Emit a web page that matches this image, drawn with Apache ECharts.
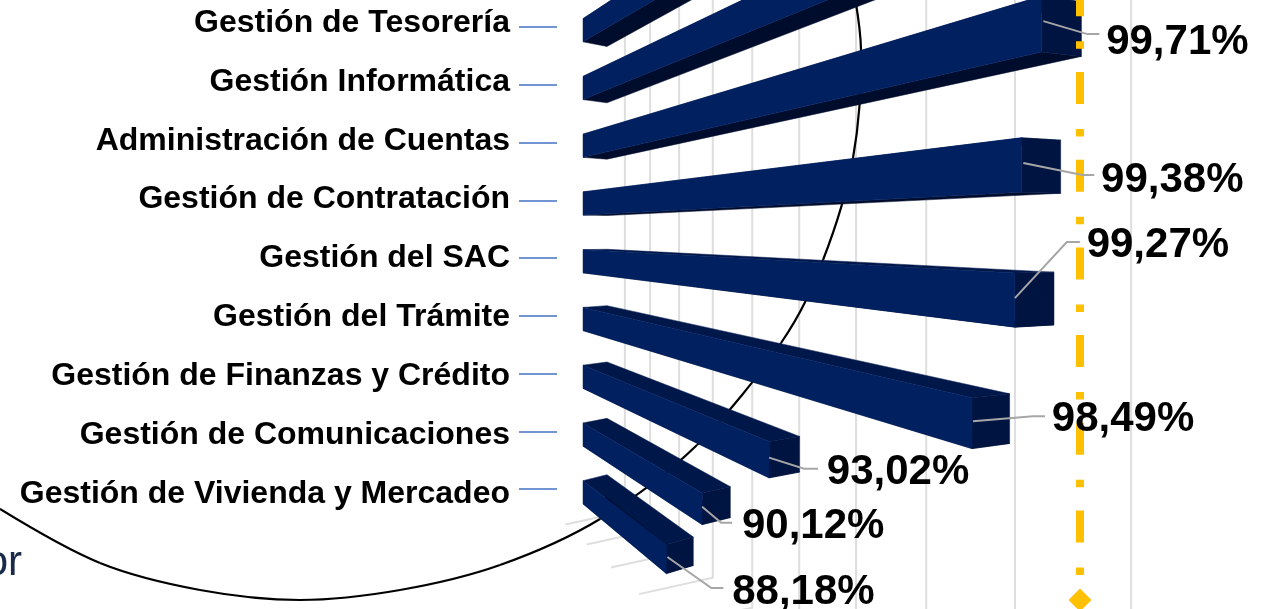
<!DOCTYPE html>
<html><head><meta charset="utf-8">
<style>html,body{margin:0;padding:0;background:#fff}#c{width:1262px;height:609px}</style>
<script src="https://cdn.jsdelivr.net/npm/echarts@6/dist/echarts.min.js"></script>
</head><body><div id="c"></div>
<script>
// ---- data ----
const categories = ['Gestión de Tesorería','Gestión Informática','Administración de Cuentas','Gestión de Contratación','Gestión del SAC','Gestión del Trámite','Gestión de Finanzas y Crédito','Gestión de Comunicaciones','Gestión de Vivienda y Mercadeo'];
const values = [100, 99.95, 99.71, 99.38, 99.27, 98.49, 93.02, 90.12, 88.18];
const gridTicks = [84,86,88,90,92,94,96,98,100,102];
const targetValue = [100.3];
// ---- layout of the leader lines, relative to the bar end: start, knee, end, label centre ----
const leaderLayout = [null,null,
 [[2,-3],[46,10],[58,10],[136,18]],
 [[2,-2],[61,10],[73,10],[151,15]],
 [[0,-2],[52,-58],[65,-58],[143,-55]],
 [[1,-2],[61,-7],[73,-7],[151,-4]],
 [[0,-2],[35,9],[49,9],[129,13]],
 [[0,-2],[19,14],[30,14],[111,18]],
 [[1,-2],[45,29],[57,29],[137,33]]];
// ---- background arc outline (decoration) ----
const arcPoints = [[-60,465],[0,509],[100,563],[200,590],[300,600],[400,590],[500,565],[600,519],[697,445],[781,343],[823,260],[853,158],[861,50],[850,-30]];
// ---- perspective of the 3D chart ----
const GL=583, GW=660, AX_MIN=80, AX_MAX=102;
const VX=258, VY=232, D0=325, HALF=11.6, BAR_BASE=82, BAR_K=0.00010166, WALL_K=0.0000878;
const axisVal=px=>AX_MIN+(px-GL)/GW*(AX_MAX-AX_MIN);
const barX=px=>VX+1/(1/D0-BAR_K*(axisVal(px)-BAR_BASE));
const wallX=px=>VX+1/(1/D0-WALL_K*(axisVal(px)-AX_MIN));
const front=(x,yc,sign)=>{const s=(x-VX)/D0;return [x,VY+(yc+3.25-VY)*s+sign*HALF*s];};
const back=p=>[p[0]+24+0.035*(p[0]-GL),p[1]+(234-p[1])*0.024];
const poly=(pts,fill)=>({type:'polygon',shape:{points:pts},style:{fill:fill,stroke:fill,lineWidth:0.5}});
function arcSegments(pts){
  const out=[];
  for(let i=0;i<pts.length-1;i++){
    const p0=pts[Math.max(i-1,0)],p1=pts[i],p2=pts[i+1],p3=pts[Math.min(i+2,pts.length-1)];
    out.push({type:'bezierCurve',z:1,silent:true,
      shape:{x1:p1[0],y1:p1[1],x2:p2[0],y2:p2[1],
        cpx1:p1[0]+(p2[0]-p0[0])/6,cpy1:p1[1]+(p2[1]-p0[1])/6,
        cpx2:p2[0]-(p3[0]-p1[0])/6,cpy2:p2[1]-(p3[1]-p1[1])/6},
      style:{stroke:'#000',lineWidth:2.2,fill:null}});
  }
  return out;
}
function endOf(api,i,v){
  const yc=api.coord([v,i])[1];
  const x0=barX(api.coord([BAR_BASE,i])[0]), x1=barX(api.coord([v,i])[0]);
  return {yc,x0,x1};
}
function renderBar(params,api){
  const i=params.dataIndex, v=api.value(0);
  const {yc,x0,x1}=endOf(api,i,v);
  const a=front(x0,yc,-1), b=front(x1,yc,-1), c=front(x1,yc,1), d=front(x0,yc,1);
  const ba=back(a), bb=back(b), bc=back(c), bd=back(d);
  return {type:'group',children:[
    poly([a,b,bb,ba],'#00174a'),
    poly([d,c,bc,bd],'#000c2c'),
    poly([b,bb,bc,c],'#001442'),
    poly([a,b,c,d],'#002060')
  ]};
}
function renderLabel(params,api){
  const i=params.dataIndex, v=api.value(0);
  const L=leaderLayout[i];
  if(!L) return {type:'group',children:[]};
  const {yc,x1}=endOf(api,i,v);
  const m=[x1,(front(x1,yc,-1)[1]+front(x1,yc,1)[1])/2];
  const at=o=>[m[0]+o[0],m[1]+o[1]];
  const t=at(L[3]);
  return {type:'group',children:[
    {type:'polyline',shape:{points:[at(L[0]),at(L[1]),at(L[2])]},style:{stroke:'#a6a6a6',lineWidth:2,fill:null}},
    {type:'text',style:{text:v.toFixed(2).replace('.',',')+'%',x:t[0],y:t[1],align:'center',verticalAlign:'middle',
      font:'bold 42px "Liberation Sans", Arial, sans-serif',fill:'#000'}}
  ]};
}
function renderGrid(params,api){
  const x=wallX(api.coord([api.value(0),0])[0]);
  const fy=234+0.756*(x-VX);
  const xf=VX+0.838*(x-VX), yf=234+0.945*(xf-VX);
  return {type:'polyline',shape:{points:[[x,-5],[x,fy],[xf,yf]]},style:{stroke:'#dedede',lineWidth:2,fill:null}};
}
function renderTarget(params,api){
  const x=barX(api.coord([api.value(0),0])[0]);
  const dy=600, r=11.5;
  return {type:'group',children:[
    {type:'line',shape:{x1:x,y1:-15.7,x2:x,y2:dy-10},style:{stroke:'#FFC000',lineWidth:8,lineDash:[32,25,7.5,23.2]}},
    {type:'polygon',shape:{points:[[x,dy-r],[x+r,dy],[x,dy+r],[x-r,dy]]},style:{fill:'#FFC000'}}
  ]};
}
const chart=echarts.init(document.getElementById('c'),null,{renderer:'canvas'});
const base={type:'custom',xAxisIndex:0,yAxisIndex:0,coordinateSystem:'cartesian2d',silent:true,clip:false,encode:{x:0}};
chart.setOption({
  animation:false,backgroundColor:'#fff',
  grid:[
    {left:GL,width:GW,top:-1.875,height:519.75,outerBoundsMode:'none'},
    {left:518,width:10,top:-6.45,height:530,outerBoundsMode:'none'}
  ],
  xAxis:[
    {gridIndex:0,type:'value',min:AX_MIN,max:AX_MAX,interval:2,show:false},
    {gridIndex:1,type:'value',show:false}
  ],
  yAxis:[
    {gridIndex:0,type:'category',inverse:true,data:categories,offset:26,
     axisLine:{show:false},axisLabel:{show:false},splitLine:{show:false},
     axisTick:{show:true,alignWithLabel:true,interval:0,length:38,lineStyle:{color:'#4472C4',width:1.5}}},
    {gridIndex:1,type:'category',inverse:true,data:categories,
     axisLine:{show:false},axisTick:{show:false},splitLine:{show:false},
     axisLabel:{show:true,interval:0,margin:8,color:'#000',fontWeight:'bold',fontSize:32,fontFamily:'"Liberation Sans", Arial, sans-serif'}}
  ],
  graphic:arcSegments(arcPoints).concat([
    {type:'text',z:1,silent:true,style:{text:'or',x:22,y:563,align:'right',verticalAlign:'middle',font:'42px "Liberation Sans", Arial, sans-serif',fill:'#1a2a4a'}}
  ]),
  series:[
    Object.assign({},base,{name:'grid',z:0,data:gridTicks.map(v=>[v]),renderItem:renderGrid}),
    Object.assign({},base,{name:'bars',z:3,data:values.map(v=>[v]),renderItem:renderBar}),
    Object.assign({},base,{name:'target',z:4,data:targetValue.map(v=>[v]),renderItem:renderTarget}),
    Object.assign({},base,{name:'labels',z:5,data:values.map(v=>[v]),renderItem:renderLabel})
  ]
});
</script></body></html>
